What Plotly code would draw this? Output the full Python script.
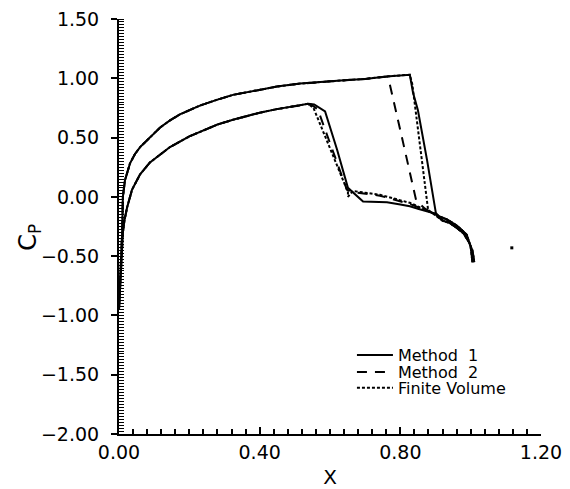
import plotly.graph_objects as go

# ---- data ----
# Method 1 : path from upper trailing edge -> leading edge -> lower trailing edge
m1_x = [1.01, 1.005, 0.995, 0.98, 0.96, 0.94, 0.92, 0.901, 0.876, 0.85, 0.836, 0.827,
        0.76, 0.70, 0.65, 0.571, 0.515, 0.449, 0.40, 0.324, 0.28, 0.23, 0.173, 0.145,
        0.117, 0.09, 0.06, 0.045, 0.031, 0.017, 0.011, 0.009, 0.005, 0.002, 0.0,
        0.002, 0.005, 0.008, 0.011, 0.016, 0.023, 0.037, 0.06, 0.088, 0.117, 0.145,
        0.20, 0.23, 0.28, 0.324, 0.40, 0.449, 0.50, 0.538, 0.555, 0.586, 0.62, 0.651,
        0.694, 0.73, 0.762, 0.80, 0.827, 0.85, 0.876, 0.898, 0.915, 0.932, 0.96, 0.989,
        1.0, 1.005]
m1_cp = [-0.55, -0.45, -0.38, -0.31, -0.26, -0.22, -0.20, -0.135, 0.31, 0.73, 0.88, 1.03,
         1.015, 0.995, 0.985, 0.97, 0.955, 0.93, 0.905, 0.86, 0.82, 0.77, 0.695, 0.645,
         0.585, 0.51, 0.42, 0.36, 0.28, 0.14, 0.0, -0.3, -0.55, -0.78, -0.95,
         -0.80, -0.60, -0.45, -0.30, -0.19, -0.09, 0.06, 0.19, 0.29, 0.36, 0.42,
         0.51, 0.55, 0.61, 0.65, 0.71, 0.74, 0.765, 0.785, 0.78, 0.72, 0.40, 0.076,
         -0.04, -0.04, -0.045, -0.065, -0.08, -0.10, -0.125, -0.14, -0.17, -0.19, -0.24, -0.32,
         -0.42, -0.55]

# Method 2
m2_x = [1.01, 1.005, 0.995, 0.98, 0.96, 0.94, 0.92, 0.90, 0.87, 0.845, 0.81, 0.776, 0.765,
        0.70, 0.65, 0.571, 0.515, 0.449, 0.40, 0.324, 0.28, 0.23, 0.173, 0.145,
        0.117, 0.09, 0.06, 0.045, 0.031, 0.017, 0.011, 0.009, 0.005, 0.002, 0.0,
        0.002, 0.005, 0.008, 0.011, 0.016, 0.023, 0.037, 0.06, 0.088, 0.117, 0.145,
        0.20, 0.23, 0.28, 0.324, 0.40, 0.449, 0.50, 0.545, 0.565, 0.648, 0.665,
        0.742, 0.827, 0.88, 0.90, 0.915, 0.932, 0.96, 0.989, 1.0, 1.005]
m2_cp = [-0.55, -0.45, -0.38, -0.31, -0.26, -0.22, -0.20, -0.15, -0.10, -0.03, 0.43, 0.885, 1.015,
         0.995, 0.985, 0.97, 0.955, 0.93, 0.905, 0.86, 0.82, 0.77, 0.695, 0.645,
         0.585, 0.51, 0.42, 0.36, 0.28, 0.14, 0.0, -0.3, -0.55, -0.78, -0.95,
         -0.80, -0.60, -0.45, -0.30, -0.19, -0.09, 0.06, 0.19, 0.29, 0.36, 0.42,
         0.51, 0.55, 0.61, 0.65, 0.71, 0.74, 0.765, 0.78, 0.74, 0.06, 0.04,
         0.01, -0.06, -0.12, -0.15, -0.17, -0.19, -0.24, -0.32, -0.42, -0.55]

# Finite Volume
fv_x = [1.01, 1.005, 0.995, 0.98, 0.96, 0.94, 0.92, 0.89, 0.879, 0.834, 0.827,
        0.76, 0.70, 0.65, 0.571, 0.515, 0.449, 0.40, 0.324, 0.28, 0.23, 0.173, 0.145,
        0.117, 0.09, 0.06, 0.045, 0.031, 0.017, 0.011, 0.009, 0.005, 0.002, 0.0,
        0.002, 0.005, 0.008, 0.011, 0.016, 0.023, 0.037, 0.06, 0.088, 0.117, 0.145,
        0.20, 0.23, 0.28, 0.324, 0.40, 0.449, 0.50, 0.538, 0.553, 0.651, 0.651, 0.665,
        0.742, 0.827, 0.879, 0.90, 0.915, 0.932, 0.96, 0.989, 1.0, 1.005]
fv_cp = [-0.55, -0.45, -0.38, -0.31, -0.26, -0.22, -0.20, -0.13, -0.11, 0.95, 1.03,
         1.015, 0.995, 0.985, 0.97, 0.955, 0.93, 0.905, 0.86, 0.82, 0.77, 0.695, 0.645,
         0.585, 0.51, 0.42, 0.36, 0.28, 0.14, 0.0, -0.3, -0.55, -0.78, -0.95,
         -0.80, -0.60, -0.45, -0.30, -0.19, -0.09, 0.06, 0.19, 0.29, 0.36, 0.42,
         0.51, 0.55, 0.61, 0.65, 0.71, 0.74, 0.765, 0.785, 0.75, 0.04, 0.0, 0.05,
         0.017, -0.05, -0.12, -0.15, -0.17, -0.19, -0.24, -0.32, -0.42, -0.55]

stray_x = [1.117]
stray_cp = [-0.43]

x_ticks = [0.0, 0.4, 0.8, 1.2]
x_ticklabels = ["0.00", "0.40", "0.80", "1.20"]
y_ticks = [-2.0, -1.5, -1.0, -0.5, 0.0, 0.5, 1.0, 1.5]
y_ticklabels = ["\u22122.00", "\u22121.50", "\u22121.00", "\u22120.50", "0.00", "0.50", "1.00", "1.50"]

FONT = "DejaVu Sans"

fig = go.Figure()
fig.add_trace(go.Scatter(x=m1_x, y=m1_cp, mode="lines", name="Method  1",
                         line=dict(color="black", width=2, dash="solid"), legend="legend"))
fig.add_trace(go.Scatter(x=m2_x, y=m2_cp, mode="lines", name="Method  2",
                         line=dict(color="black", width=2, dash="10px,8px"), legend="legend2"))
fig.add_trace(go.Scatter(x=fv_x, y=fv_cp, mode="lines", name="Finite Volume",
                         line=dict(color="black", width=2, dash="3px,2px"), legend="legend3"))
fig.add_trace(go.Scatter(x=stray_x, y=stray_cp, mode="markers", showlegend=False,
                         marker=dict(color="black", size=3, symbol="square")))

leg = dict(x=0.552, xanchor="left", yanchor="middle", bgcolor="rgba(0,0,0,0)",
           borderwidth=0, itemwidth=36, font=dict(family=FONT, size=16, color="black"))

# page body has an 8px margin, so the figure is offset by (8, 8)
fig.update_layout(
    width=562, height=481,
    margin=dict(l=111, r=29, t=11, b=55),
    paper_bgcolor="white", plot_bgcolor="white",
    font=dict(family=FONT, color="black"),
    legend=dict(leg, y=0.190),
    legend2=dict(leg, y=0.149),
    legend3=dict(leg, y=0.111),
    xaxis=dict(range=[0, 1.2], tickvals=x_ticks, ticktext=x_ticklabels, automargin=False,
               showgrid=False, zeroline=False, showline=True, linecolor="black", linewidth=2,
               ticks="inside", ticklen=7, tickwidth=2, tickcolor="black",
               tickfont=dict(family=FONT, size=19), ticklabeloverflow="allow",
               minor=dict(dtick=0.04, tick0=0, ticks="inside", ticklen=5, tickwidth=1.5, tickcolor="black"),
               title=dict(text="X", font=dict(family=FONT, size=20), standoff=14)),
    yaxis=dict(range=[-2, 1.5], tickvals=y_ticks, ticktext=y_ticklabels, automargin=False,
               showgrid=False, zeroline=False, showline=True, linecolor="black", linewidth=2,
               ticks="outside", ticklen=6, tickwidth=2, tickcolor="black",
               tickfont=dict(family=FONT, size=19), ticklabelstandoff=8, ticklabeloverflow="allow",
               minor=dict(dtick=0.025, tick0=0, ticks="inside", ticklen=5, tickwidth=1, tickcolor="black")),
    annotations=[dict(text="C<sub>P</sub>", textangle=-90, xref="paper", yref="paper",
                      x=-0.211, y=0.475, xanchor="center", yanchor="middle", showarrow=False,
                      font=dict(family=FONT, size=24, color="black"))],
)

fig.write_html("out.html")
